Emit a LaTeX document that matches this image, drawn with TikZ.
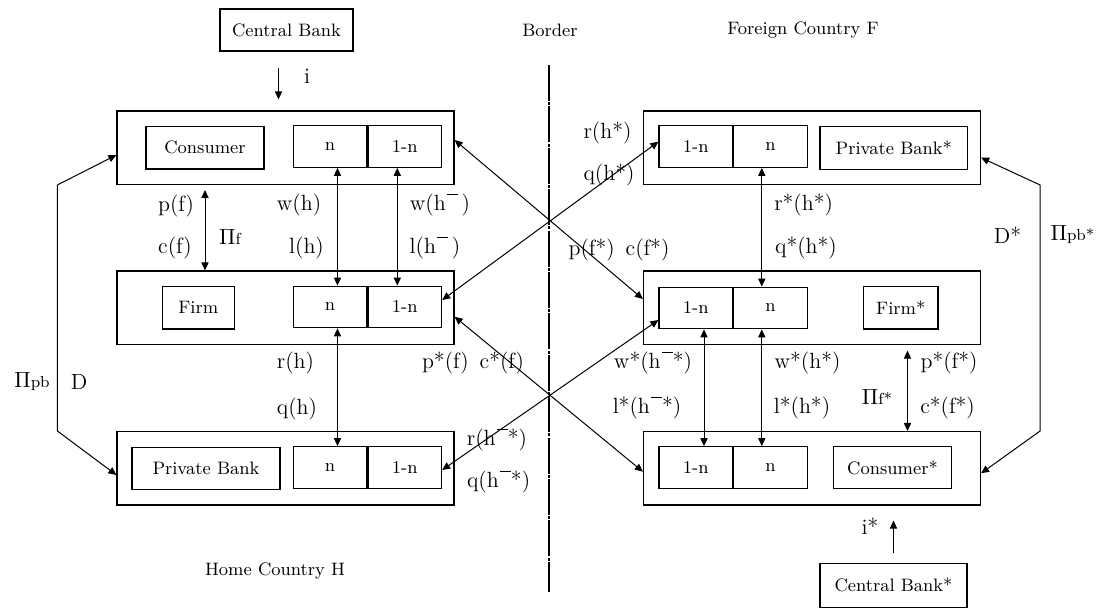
\documentclass[tikz,border=0pt]{standalone}
\usetikzlibrary{arrows.meta,positioning}
\newcommand{\hbr}{h\kern0.6pt\rule[1.65ex]{0.5em}{0.6pt}}
\begin{document}
\begin{tikzpicture}[x=0.5pt, y=-0.5pt, >={Triangle[length=4pt,width=3.6pt]},
    outer/.style={draw, rectangle, minimum width=168.5pt, minimum height=36.7pt, inner sep=0pt, line width=0.6pt},
    inbox/.style={draw, rectangle, minimum height=21.2pt, inner sep=0pt, line width=0.6pt, font=\fontsize{9}{11}\selectfont},
    half/.style={inbox, minimum width=36.8pt, minimum height=20.8pt},
    lbl/.style={inner sep=0pt, font=\fontsize{11}{13}\selectfont},
    title/.style={inner sep=0pt, font=\fontsize{9}{11}\selectfont},
    link/.style={line width=0.5pt},
    border/.style={line width=0.6pt, dash pattern=on 18pt off 0.6pt on 1.5pt off 0.6pt}]
    \useasboundingbox (0,0) rectangle (1105,608);

    % Home country H
    \node (cb) [inbox, minimum width=66.5pt, minimum height=21pt] at (286.5,30) {Central Bank};
    \node (consO) [outer] at (285.5,147.7) {};
    \node (consI) [inbox, minimum width=59pt] at (205,147.8) {Consumer};
    \node (consN) [half] at (330,146.5) {n};
    \node (cons1n) [half, right=0pt of consN] {1-n};
    \node (firmO) [outer] at (285.5,307.7) {};
    \node (firmI) [inbox, minimum width=35.8pt] at (198.3,307.8) {Firm};
    \node (firmN) [half] at (330,307) {n};
    \node (firm1n) [half, right=0pt of firmN] {1-n};
    \node (pbO) [outer] at (285.5,468.3) {};
    \node (pbI) [inbox, minimum width=74pt] at (206,468.7) {Private Bank};
    \node (pbN) [half] at (330,467.5) {n};
    \node (pb1n) [half, right=0pt of pbN] {1-n};

    % Foreign country F
    \node (pbsO) [outer] at (812,147.7) {};
    \node (pbs1n) [half] at (695.8,146.5) {1-n};
    \node (pbsN) [half, right=0pt of pbs1n] {n};
    \node (pbsI) [inbox, minimum width=73.8pt] at (893.8,148) {Private Bank*};
    \node (firmsO) [outer] at (812,307.7) {};
    \node (firms1n) [half] at (695.8,308) {1-n};
    \node (firmsN) [half, right=0pt of firms1n] {n};
    \node (firmsI) [inbox, minimum width=37.2pt] at (900.8,307.8) {Firm*};
    \node (conssO) [outer] at (812,468.3) {};
    \node (conss1n) [half] at (695.8,467.5) {1-n};
    \node (conssN) [half, right=0pt of conss1n] {n};
    \node (conssI) [inbox, minimum width=59pt] at (892.5,467.5) {Consumer*};
    \node (cbs) [inbox, minimum width=73.5pt, minimum height=22pt] at (893.5,585.3) {Central Bank*};

    % Titles and border
    \node (tborder) [title] at (550,30.7) {Border};
    \node (tforeign) [title] at (803,30) {Foreign Country F};
    \node (thome) [title] at (275,571) {Home Country H};
    \coordinate (bdtop) at (549,65);
    \coordinate (bdbot) at (549,591.7);
    \draw[border] (bdtop) -- (bdbot);

    % Edges
    \draw[link, ->, shorten <=8.3pt, shorten >=5.5pt] ([xshift=-4pt]cb.south) -- ([xshift=-4pt]cb.south |- consO.north);
    \draw[link, ->, shorten <=5pt, shorten >=7.5pt] (cbs.north) -- (cbs.north |- conssO.south);
    \draw[link, <->] ([xshift=3.75pt]consN.south) -- ([xshift=3.75pt]firmN.north);
    \draw[link, <->] ([xshift=-3.75pt]cons1n.south) -- ([xshift=-3.75pt]firm1n.north);
    \draw[link, <->] ([xshift=3.75pt]firmN.south) -- ([xshift=3.75pt]pbN.north);
    \draw[link, <->, shorten <=2.5pt] ([xshift=-40.25pt]consO.south) -- ([xshift=-40.25pt]firmO.north);
    \draw[link, <->] ([xshift=-4.4pt]pbsN.south) -- ([xshift=-4.4pt]firmsN.north);
    \draw[link, <->] ([xshift=4.1pt]firms1n.south) -- ([xshift=4.1pt]conss1n.north);
    \draw[link, <->] ([xshift=-4.4pt]firmsN.south) -- ([xshift=-4.4pt]conssN.north);
    \draw[link, <->, shorten <=2.8pt] ([xshift=47.75pt]firmsO.south) -- ([xshift=47.75pt]conssO.north);
    % across the border
    \draw[link, <->] ([yshift=3.85pt]consO.east) -- ([yshift=4.35pt]firmsO.west);
    \draw[link, <->] ([yshift=3.5pt]firm1n.east) -- ([yshift=2.4pt]pbs1n.west);
    \draw[link, <->] ([yshift=-4.5pt]firmO.east) -- ([yshift=-1.7pt]conssO.west);
    \draw[link, <->] ([yshift=-1.25pt]pb1n.east) -- ([yshift=-6pt]firms1n.west);
    % deposits
    \draw[link, <->] ([yshift=-3.65pt]consO.west) -- ([xshift=-29.5pt]consO.south west)
        -- ([xshift=-29.5pt]pbO.north west) -- ([yshift=-3.35pt]pbO.west);
    \draw[link, <->] ([yshift=-5pt]pbsO.east) -- ([xshift=29.5pt]pbsO.south east)
        -- ([xshift=29.5pt]conssO.north east) -- ([yshift=-2.5pt]conssO.east);

    % Labels, home
    \node (li) [lbl] at (307,76) {i};
    \node (lpf) [lbl] at (176,206) {p(f)};
    \node (lcf) [lbl] at (175,248) {c(f)};
    \node (lpif) [lbl] at (230,237) {\(\Pi\){\footnotesize f}};
    \node (lwh) [lbl] at (299,205) {w(h)};
    \node (llh) [lbl] at (306.5,248) {l(h)};
    \node (lwhb) [lbl] at (440,205) {w(\hbr\,)};
    \node (llhb) [lbl] at (435,248) {l(\hbr\,)};
    \node (lrh) [lbl] at (295.5,363) {r(h)};
    \node (lqh) [lbl] at (297,409) {q(h)};
    \node (lpcf) [lbl] at (473,363) {p*(f)\enspace c*(f)};
    \node (lpipb) [lbl] at (32,382) {\(\Pi\){\footnotesize pb}};
    \node (ld) [lbl] at (79,382) {D};
    \node (lrhs) [lbl] at (497,440) {r(\hbr*)};
    \node (lqhs) [lbl] at (498.6,481.7) {q(\hbr*)};

    % Labels, foreign
    \node (lrhst) [lbl] at (607.5,133.3) {r(h*)};
    \node (lqhst) [lbl] at (609,175) {q(h*)};
    \node (lrs) [lbl] at (803.6,205) {r*(h*)};
    \node (lqs) [lbl] at (806,248) {q*(h*)};
    \node (lpcfs) [lbl] at (619,250) {p(f*)\enspace c(f*)};
    \node (lds) [lbl] at (1007.5,235) {D*};
    \node (lpipbs) [lbl] at (1072.5,235) {\(\Pi\){\footnotesize pb*}};
    \node (lwsb) [lbl] at (653,363) {w*(\hbr*)};
    \node (lws) [lbl] at (807.5,363) {w*(h*)};
    \node (lpfs) [lbl] at (949,363) {p*(f*)};
    \node (llsb) [lbl] at (647,408) {l*(\hbr*)};
    \node (lls) [lbl] at (802,408) {l*(h*)};
    \node (lcfs) [lbl] at (947.5,408) {c*(f*)};
    \node (lpifs) [lbl] at (877,396.7) {\(\Pi\){\footnotesize f*}};
    \node (lis) [lbl] at (870,526.7) {i*};
\end{tikzpicture}
\end{document}
